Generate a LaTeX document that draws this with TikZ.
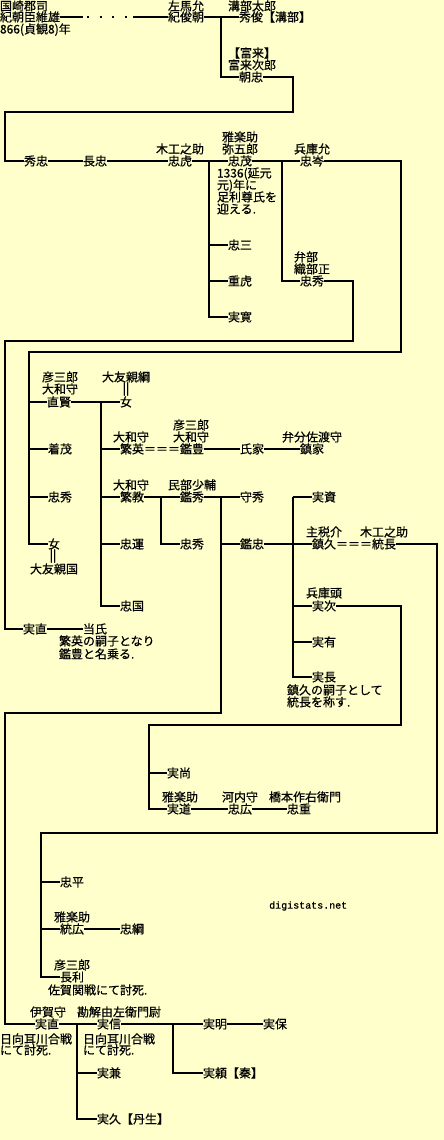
\documentclass[tikz,border=0pt]{standalone}
\usepackage{fontspec}
\newfontfamily\jp[FakeBold=0.6]{Noto Sans CJK JP}
\newfontfamily\lmono[FakeBold=0.6]{Liberation Mono}
\definecolor{bg}{HTML}{FFFFCC}
\tikzset{
  nm/.style={anchor=west, inner sep=0pt, outer sep=0pt, font=\jp\fontsize{12}{12}\selectfont, text height=10.5pt, text depth=1.5pt},
  bars/.style={anchor=center, inner sep=0pt, outer sep=0pt, font=\jp\fontsize{12}{12}\selectfont},
  ln/.style={line width=2pt, draw=black},
  dotline/.style={line width=2pt, draw=black, dash pattern=on 2pt off 10.5pt}
}
\newcommand\Nd[4]{\node[nm] (#1) at (#2,#3) {#4};}
\begin{document}
\begin{tikzpicture}[x=1pt,y=-1pt]
\fill[bg] (0,0) rectangle (444,1140);
\useasboundingbox (0,0) rectangle (444,1140);
% ---- top
\Nd{tA1}{0}{6}{国崎郡司}
\Nd{koreo}{0}{17}{紀朝臣維雄}
\Nd{tA3}{0}{29}{866(貞観8)年}
\Nd{samanojo}{168}{6}{左馬允}
\Nd{toshitomo}{168}{17}{紀俊朝}
\Nd{mizobe}{228}{6}{溝部太郎}
\Nd{hidetoshi}{239}{17}{秀俊【溝部】}
\Nd{tomiku1}{228}{53}{【富来】}
\Nd{tomiku2}{228}{65}{富来次郎}
\Nd{tomotada}{239}{77}{朝忠}
% ---- row 161
\Nd{hidetada}{24}{161}{秀忠}
\Nd{nagatada}{83}{161}{長忠}
\Nd{moku1}{156}{149}{木工之助}
\Nd{tadatora}{168}{161}{忠虎}
\Nd{uta1}{222}{137}{雅楽助}
\Nd{yagoro}{222}{149}{弥五郎}
\Nd{tadashige}{228}{161}{忠茂}
\Nd{n1}{217}{173}{1336(延元}
\Nd{n2}{217}{185}{元)年に}
\Nd{n3}{217}{197}{足利尊氏を}
\Nd{n4}{217}{209}{迎える.}
\Nd{tadazo}{228}{245}{忠三}
\Nd{shigetora}{228}{281}{重虎}
\Nd{sanekan}{228}{317}{実寛}
\Nd{hyogo1}{294}{149}{兵庫允}
\Nd{tadamine}{300}{161}{忠岑}
\Nd{benbu}{294}{257}{弁部}
\Nd{oribe}{294}{269}{織部正}
\Nd{tadahideA}{300}{281}{忠秀}
% ---- middle left
\Nd{hiko1}{42}{377}{彦三郎}
\Nd{yamato1}{42}{389}{大和守}
\Nd{naokata}{47}{402}{直賢}
\Nd{otomo1}{102}{377}{大友親綱}
\node[bars] (bar1) at (126,389) {||};
\Nd{onnaA}{120}{402}{女}
\Nd{kiyoshige}{48}{449}{着茂}
\Nd{tadahideB}{48}{497}{忠秀}
\Nd{onnaB}{48}{544}{女}
\node[bars] (bar2) at (53,556) {||};
\Nd{otomo2}{30}{569}{大友親国}
\Nd{yamato2}{113}{437}{大和守}
\Nd{shigehide}{120}{449}{繁英}
\Nd{eqA}{144}{449}{＝＝＝}
\Nd{hiko2}{173}{425}{彦三郎}
\Nd{yamato3}{173}{437}{大和守}
\Nd{akitoyo}{180}{449}{鑑豊}
\Nd{ujiie}{240}{449}{氏家}
\Nd{benbun}{282}{437}{弁分佐渡守}
\Nd{shizuie}{300}{449}{鎮家}
\Nd{yamato4}{113}{485}{大和守}
\Nd{shigenori}{120}{497}{繁教}
\Nd{minbu}{168}{485}{民部少輔}
\Nd{akihide}{180}{497}{鑑秀}
\Nd{morihide}{240}{497}{守秀}
\Nd{tadaun}{120}{544}{忠運}
\Nd{tadahideC}{180}{544}{忠秀}
\Nd{akitada}{240}{544}{鑑忠}
\Nd{tadakuni}{120}{606}{忠国}
\Nd{sanenaoA}{23}{629}{実直}
\Nd{touji}{83}{629}{当氏}
\Nd{n5}{59}{641}{繁英の嗣子となり}
\Nd{n6}{59}{654}{鑑豊と名乗る.}
% ---- middle right
\Nd{sanesuke}{312}{497}{実資}
\Nd{chikara}{306}{532}{主税介}
\Nd{moku2}{360}{532}{木工之助}
\Nd{shizuhisa}{312}{544}{鎮久}
\Nd{eqB}{336}{544}{＝＝＝}
\Nd{munenaga}{372}{544}{統長}
\Nd{hyogo2}{306}{593}{兵庫頭}
\Nd{sanetsugu}{312}{606}{実次}
\Nd{saneari}{312}{642}{実有}
\Nd{sanenaga}{312}{677}{実長}
\Nd{n7}{287}{690}{鎮久の嗣子として}
\Nd{n8}{287}{702}{統長を称す.}
\Nd{sanehisa}{167}{773}{実尚}
\Nd{uta2}{162}{797}{雅楽助}
\Nd{sanemichi}{167}{809}{実道}
\Nd{kawachi}{222}{797}{河内守}
\Nd{tadahiro}{228}{809}{忠広}
\Nd{hashimoto}{269}{797}{橋本作右衛門}
\Nd{tadashigeB}{287}{809}{忠重}
% ---- lower
\Nd{tadahira}{60}{882}{忠平}
\Nd{uta3}{54}{917}{雅楽助}
\Nd{munehiro}{60}{929}{統広}
\Nd{tadatsuna}{120}{929}{忠綱}
\Nd{hiko3}{54}{965}{彦三郎}
\Nd{nagatoshi}{60}{977}{長利}
\Nd{n9}{48}{990}{佐賀関戦にて討死.}
\node[anchor=west, inner sep=0pt, font=\lmono\fontsize{10}{10}\selectfont] (site) at (269,906) {digistats.net};
\Nd{iga}{30}{1012}{伊賀守}
\Nd{sanenaoB}{35}{1024}{実直}
\Nd{n10}{0}{1039}{日向耳川合戦}
\Nd{n11}{0}{1050}{にて討死.}
\Nd{kageyu}{77}{1012}{勘解由左衛門尉}
\Nd{sanenobu}{97}{1024}{実信}
\Nd{n12}{83}{1039}{日向耳川合戦}
\Nd{n13}{83}{1050}{にて討死.}
\Nd{sanekane}{97}{1073}{実兼}
\Nd{sanehisaB}{97}{1119}{実久【丹生】}
\Nd{saneaki}{203}{1024}{実明}
\Nd{sanetomo}{263}{1024}{実保}
\Nd{saneyori}{203}{1073}{実頼【秦】}
% ---- coordinates
\coordinate (dL) at (83,17);
\coordinate (dA) at (87,17);
\coordinate (dB) at (127,17);
\coordinate (dR) at (133,17);
\coordinate (b1) at (220.5,17);
\coordinate (k1) at (293,112);
\coordinate (k2) at (5,112);
\coordinate (b2) at (209,161);
\coordinate (b3) at (282,161);
\coordinate (k3) at (401,352);
\coordinate (k4) at (29,352);
\coordinate (k5) at (353,341);
\coordinate (k6) at (5,341);
\coordinate (b4) at (100.7,402);
\coordinate (b5) at (161,497);
\coordinate (b6) at (220.7,497);
\coordinate (k7) at (220.7,713);
\coordinate (k8) at (5,713);
\coordinate (b7) at (292.7,497);
\coordinate (k9) at (437,833);
\coordinate (k10) at (41,833);
\coordinate (k11) at (401,725);
\coordinate (k12) at (149,725);
\coordinate (b8) at (77.3,1024);
\coordinate (b9) at (172.7,1024);
% ---- connectors
\draw[ln] (koreo.east) -- (dL);
\draw[dotline] (dA) -- (dB);
\draw[ln] (dR) -- (toshitomo.west);
\draw[ln] (toshitomo.east) -- (hidetoshi.west);
\draw[ln] (b1) |- (tomotada.west);
\draw[ln] (tomotada.east) -| (k1) -- (k2) |- (hidetada.west);
\draw[ln] (hidetada.east) -- (nagatada.west);
\draw[ln] (nagatada.east) -- (tadatora.west);
\draw[ln] (tadatora.east) -- (tadashige.west);
\draw[ln] (b2) |- (sanekan.west);
\draw[ln] (b2 |- tadazo.west) -- (tadazo.west);
\draw[ln] (b2 |- shigetora.west) -- (shigetora.west);
\draw[ln] (tadashige.east) -- (tadamine.west);
\draw[ln] (b3) |- (tadahideA.west);
\draw[ln] (tadamine.east) -| (k3) -- (k4) |- (onnaB.west);
\draw[ln] (k4 |- naokata.west) -- (naokata.west);
\draw[ln] (k4 |- kiyoshige.west) -- (kiyoshige.west);
\draw[ln] (k4 |- tadahideB.west) -- (tadahideB.west);
\draw[ln] (tadahideA.east) -| (k5) -- (k6) |- (sanenaoA.west);
\draw[ln] (naokata.east) -- (onnaA.west);
\draw[ln] (b4) |- (tadakuni.west);
\draw[ln] (b4 |- shigehide.west) -- (shigehide.west);
\draw[ln] (b4 |- shigenori.west) -- (shigenori.west);
\draw[ln] (b4 |- tadaun.west) -- (tadaun.west);
\draw[ln] (akitoyo.east) -- (ujiie.west);
\draw[ln] (ujiie.east) -- (shizuie.west);
\draw[ln] (shigenori.east) -- (akihide.west);
\draw[ln] (b5) |- (tadahideC.west);
\draw[ln] (akihide.east) -- (morihide.west);
\draw[ln] (b6) -- (k7) -- (k8) |- (sanenaoB.west);
\draw[ln] (b6 |- akitada.west) -- (akitada.west);
\draw[ln] (akitada.east) -- (shizuhisa.west);
\draw[ln] (b7) |- (sanenaga.west);
\draw[ln] (b7) -- (sanesuke.west);
\draw[ln] (b7 |- sanetsugu.west) -- (sanetsugu.west);
\draw[ln] (b7 |- saneari.west) -- (saneari.west);
\draw[ln] (sanenaoA.east) -- (touji.west);
\draw[ln] (munenaga.east) -| (k9) -- (k10) |- (nagatoshi.west);
\draw[ln] (k10 |- tadahira.west) -- (tadahira.west);
\draw[ln] (k10 |- munehiro.west) -- (munehiro.west);
\draw[ln] (munehiro.east) -- (tadatsuna.west);
\draw[ln] (sanetsugu.east) -| (k11) -- (k12) |- (sanemichi.west);
\draw[ln] (k12 |- sanehisa.west) -- (sanehisa.west);
\draw[ln] (sanemichi.east) -- (tadahiro.west);
\draw[ln] (tadahiro.east) -- (tadashigeB.west);
\draw[ln] (sanenaoB.east) -- (sanenobu.west);
\draw[ln] (b8) |- (sanehisaB.west);
\draw[ln] (b8 |- sanekane.west) -- (sanekane.west);
\draw[ln] (sanenobu.east) -- (saneaki.west);
\draw[ln] (b9) |- (saneyori.west);
\draw[ln] (saneaki.east) -- (sanetomo.west);
\end{tikzpicture}
\end{document}
